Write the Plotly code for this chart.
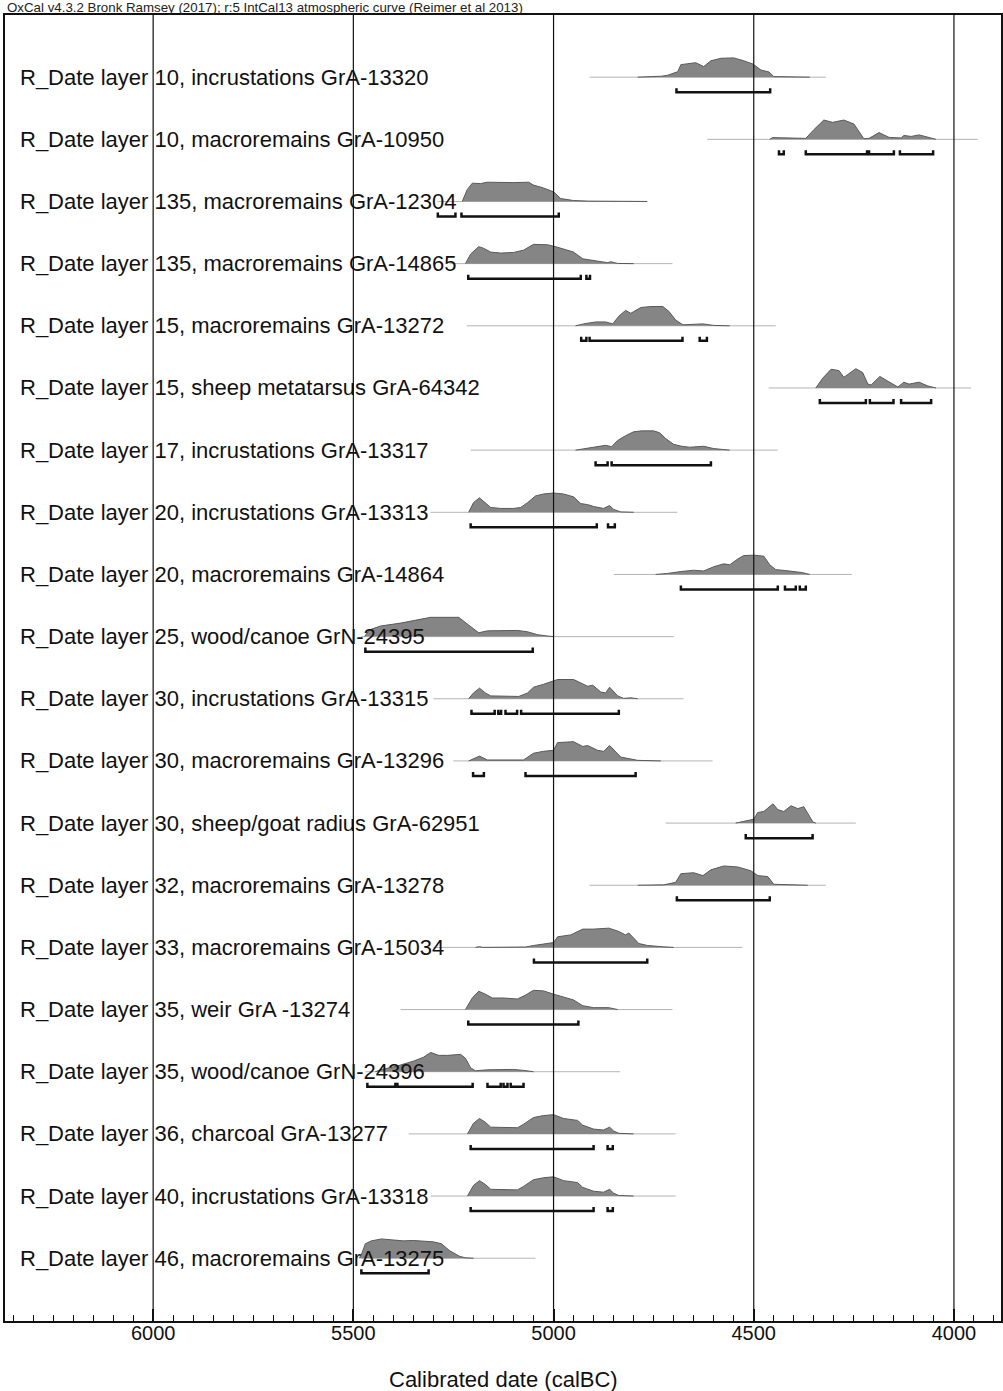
import plotly.graph_objects as go

labels = [
    "R_Date layer 10, incrustations GrA-13320",
    "R_Date layer 10, macroremains GrA-10950",
    "R_Date layer 135, macroremains GrA-12304",
    "R_Date layer 135, macroremains GrA-14865",
    "R_Date layer 15, macroremains GrA-13272",
    "R_Date layer 15, sheep metatarsus GrA-64342",
    "R_Date layer 17, incrustations GrA-13317",
    "R_Date layer 20, incrustations GrA-13313",
    "R_Date layer 20, macroremains GrA-14864",
    "R_Date layer 25, wood/canoe GrN-24395",
    "R_Date layer 30, incrustations GrA-13315",
    "R_Date layer 30, macroremains GrA-13296",
    "R_Date layer 30, sheep/goat radius GrA-62951",
    "R_Date layer 32, macroremains GrA-13278",
    "R_Date layer 33, macroremains GrA-15034",
    "R_Date layer 35, weir GrA -13274",
    "R_Date layer 35, wood/canoe GrN-24396",
    "R_Date layer 36, charcoal GrA-13277",
    "R_Date layer 40, incrustations GrA-13318",
    "R_Date layer 46, macroremains GrA-13275",
]

# extent of the thin baseline of each likelihood (calBC)
line_start = [4910, 4616, 5290, 5260, 5217, 4463, 5207, 5307, 4850, 5480,
              5300, 5250, 4720, 4910, 5300, 5382, 5470, 5362, 5307, 5482]
line_end = [4320, 3941, 4766, 4703, 4445, 3957, 4440, 4691, 4255, 4700,
            4675, 4603, 4245, 4320, 4528, 4703, 4834, 4695, 4695, 5045]

# probability distributions: years (calBC) and relative probability (max 1)
dist_years = [
    [4790, 4740, 4730, 4715, 4690, 4682, 4662, 4645, 4625, 4607, 4582, 4550, 4525, 4502, 4482, 4462, 4450, 4400, 4360],
    [4460, 4453, 4437, 4370, 4350, 4325, 4303, 4275, 4250, 4225, 4212, 4187, 4162, 4132, 4125, 4107, 4087, 4065, 4045],
    [5228, 5216, 5203, 5182, 5166, 5132, 5100, 5062, 5050, 5025, 5000, 4982, 4950, 4915, 4840, 4766],
    [5220, 5207, 5187, 5175, 5157, 5132, 5100, 5075, 5050, 5015, 4990, 4965, 4950, 4927, 4900, 4865, 4857, 4840, 4800],
    [4945, 4925, 4895, 4870, 4852, 4837, 4820, 4807, 4782, 4757, 4727, 4712, 4695, 4677, 4627, 4600, 4560],
    [4345, 4328, 4307, 4287, 4275, 4265, 4245, 4228, 4215, 4207, 4185, 4165, 4140, 4125, 4112, 4087, 4065, 4045],
    [4945, 4920, 4890, 4870, 4855, 4840, 4820, 4800, 4780, 4750, 4735, 4720, 4700, 4680, 4660, 4625, 4600, 4560],
    [5212, 5200, 5185, 5170, 5157, 5132, 5100, 5082, 5065, 5045, 5025, 5000, 4975, 4950, 4932, 4915, 4900, 4875, 4860, 4850, 4832, 4800],
    [4745, 4716, 4682, 4650, 4625, 4600, 4575, 4560, 4540, 4525, 4500, 4475, 4460, 4445, 4420, 4400, 4380, 4360],
    [5472, 5460, 5432, 5382, 5307, 5237, 5212, 5187, 5165, 5132, 5090, 5065, 5040, 5015, 5000],
    [5212, 5200, 5185, 5170, 5157, 5115, 5087, 5065, 5050, 5025, 5000, 4990, 4950, 4927, 4915, 4902, 4882, 4870, 4860, 4840, 4825, 4807, 4790],
    [5212, 5185, 5165, 5075, 5050, 5025, 5000, 4990, 4950, 4927, 4915, 4890, 4875, 4860, 4832, 4807, 4790, 4732],
    [4545, 4525, 4500, 4490, 4475, 4452, 4440, 4425, 4407, 4390, 4375, 4352, 4345],
    [4790, 4725, 4695, 4682, 4650, 4627, 4607, 4575, 4540, 4507, 4490, 4465, 4450, 4420, 4400, 4365],
    [5195, 5185, 5177, 5070, 5050, 5000, 4990, 4957, 4927, 4900, 4862, 4840, 4820, 4812, 4787, 4765, 4725, 4700],
    [5220, 5203, 5187, 5170, 5153, 5125, 5090, 5070, 5050, 5025, 5000, 4982, 4950, 4927, 4900, 4862, 4840],
    [5445, 5432, 5390, 5350, 5325, 5307, 5287, 5265, 5232, 5220, 5207, 5195, 5165, 5100, 5075, 5050],
    [5215, 5200, 5185, 5170, 5157, 5125, 5090, 5075, 5050, 5025, 5000, 4975, 4940, 4927, 4900, 4875, 4860, 4850, 4837, 4800],
    [5215, 5200, 5185, 5170, 5157, 5125, 5090, 5075, 5050, 5025, 5000, 4975, 4940, 4927, 4900, 4875, 4860, 4850, 4837, 4800],
    [5485, 5478, 5470, 5455, 5430, 5400, 5375, 5350, 5300, 5280, 5260, 5235, 5220, 5200],
]
dist_probs = [
    [0, 0.02, 0.05, 0.1, 0.28, 0.65, 0.7, 0.75, 0.55, 0.85, 0.98, 1.0, 0.85, 0.68, 0.37, 0.27, 0.03, 0.02, 0],
    [0, 0.09, 0.08, 0.05, 0.5, 1.0, 0.88, 1.0, 0.8, 0.03, 0.05, 0.35, 0.1, 0.07, 0.2, 0.15, 0.23, 0.1, 0],
    [0, 0.6, 0.95, 0.93, 1.0, 0.98, 0.98, 1.0, 0.85, 0.7, 0.5, 0.15, 0.05, 0.02, 0.01, 0],
    [0, 0.5, 0.88, 0.8, 0.6, 0.55, 0.58, 0.7, 1.0, 0.98, 0.85, 0.7, 0.6, 0.25, 0.15, 0.05, 0.1, 0.01, 0],
    [0, 0.1, 0.2, 0.2, 0.1, 0.5, 0.8, 0.65, 0.95, 1.0, 1.0, 0.75, 0.3, 0.05, 0.1, 0.02, 0],
    [0, 0.5, 0.97, 0.9, 0.55, 0.7, 1.0, 0.8, 0.2, 0.15, 0.6, 0.35, 0.05, 0.3, 0.2, 0.3, 0.1, 0],
    [0, 0.08, 0.2, 0.25, 0.18, 0.5, 0.75, 0.95, 1.0, 1.0, 0.9, 0.6, 0.3, 0.2, 0.15, 0.2, 0.08, 0],
    [0, 0.5, 0.75, 0.5, 0.25, 0.2, 0.2, 0.25, 0.5, 0.85, 0.95, 1.0, 0.95, 0.8, 0.45, 0.4, 0.3, 0.2, 0.35, 0.15, 0.02, 0],
    [0, 0.05, 0.15, 0.22, 0.18, 0.4, 0.55, 0.5, 0.8, 0.98, 1.0, 0.95, 0.5, 0.25, 0.2, 0.15, 0.1, 0],
    [0, 0.35, 0.55, 0.7, 1.0, 1.0, 0.6, 0.2, 0.3, 0.3, 0.32, 0.25, 0.1, 0.03, 0],
    [0, 0.3, 0.55, 0.3, 0.15, 0.15, 0.12, 0.3, 0.6, 0.75, 0.9, 1.0, 1.0, 0.75, 0.65, 0.7, 0.35, 0.3, 0.6, 0.15, 0.02, 0.05, 0],
    [0, 0.25, 0.05, 0.05, 0.4, 0.5, 0.55, 0.95, 1.0, 0.75, 0.8, 0.55, 0.5, 0.8, 0.2, 0.1, 0.03, 0],
    [0, 0.1, 0.2, 0.55, 0.6, 1.0, 0.7, 0.6, 0.9, 0.75, 0.85, 0.05, 0],
    [0, 0.02, 0.15, 0.6, 0.65, 0.5, 0.8, 1.0, 0.95, 0.75, 0.5, 0.45, 0.05, 0.03, 0.02, 0],
    [0, 0.04, 0, 0.02, 0.1, 0.25, 0.55, 0.65, 0.95, 0.95, 1.0, 0.85, 0.65, 0.75, 0.2, 0.1, 0.03, 0],
    [0, 0.6, 0.95, 0.8, 0.6, 0.6, 0.55, 0.75, 1.0, 0.97, 0.8, 0.7, 0.5, 0.2, 0.1, 0.1, 0],
    [0, 0.1, 0.3, 0.55, 0.75, 1.0, 0.85, 0.85, 0.9, 0.7, 0.2, 0.05, 0.1, 0.12, 0.07, 0],
    [0, 0.55, 0.8, 0.6, 0.35, 0.35, 0.32, 0.5, 0.85, 0.95, 1.0, 0.8, 0.7, 0.45, 0.25, 0.2, 0.35, 0.15, 0.03, 0],
    [0, 0.55, 0.8, 0.6, 0.35, 0.35, 0.32, 0.5, 0.85, 0.95, 1.0, 0.8, 0.7, 0.45, 0.25, 0.2, 0.35, 0.15, 0.03, 0],
    [0, 0.3, 0.75, 0.9, 1.0, 0.95, 0.9, 0.92, 0.85, 0.75, 0.4, 0.1, 0.02, 0],
]

# 95.4% highest posterior density ranges (from, to) calBC
hpd_ranges = [
    [(4693, 4459)],
    [(4437, 4425), (4370, 4217), (4212, 4150), (4135, 4052)],
    [(5289, 5245), (5230, 4987)],
    [(5213, 4932), (4918, 4909)],
    [(4931, 4918), (4910, 4678), (4635, 4617)],
    [(4335, 4220), (4210, 4151), (4132, 4057)],
    [(4895, 4865), (4855, 4607)],
    [(5207, 4892), (4864, 4847)],
    [(4682, 4440), (4422, 4395), (4385, 4370)],
    [(5470, 5052)],
    [(5205, 5147), (5138, 5131), (5120, 5091), (5081, 4837)],
    [(5201, 5174), (5070, 4795)],
    [(4520, 4353)],
    [(4692, 4460)],
    [(5049, 4766)],
    [(5213, 4938)],
    [(5465, 5395), (5390, 5202), (5165, 5132), (5125, 5115), (5107, 5075)],
    [(5207, 4900), (4865, 4852)],
    [(5207, 4900), (4865, 4852)],
    [(5480, 5312)],
]

major_ticks = [6000, 5500, 5000, 4500, 4000]
tick_text = ["6000", "5500", "5000", "4500", "4000"]

header = "OxCal v4.3.2 Bronk Ramsey (2017); r:5 IntCal13 atmospheric curve (Reimer et al 2013)"
x_title = "Calibrated date (calBC)"

HSCALE = 0.31     # height of a peak in row units
BAR_OFF = 0.242   # offset of range bars below baseline
BAR_TICK = 0.065  # height of bracket ends

FONT = "Liberation Sans, Arial, sans-serif"

fig = go.Figure()

# baselines
bx, by = [], []
for i in range(len(labels)):
    bx += [line_start[i], line_end[i], None]
    by += [i, i, None]
fig.add_trace(go.Scatter(x=bx, y=by, mode="lines",
                         line=dict(color="#b4b4b4", width=1),
                         hoverinfo="skip", showlegend=False))

# distributions
for i in range(len(labels)):
    xs = list(dist_years[i])
    ys = [i - p * HSCALE for p in dist_probs[i]]
    fig.add_trace(go.Scatter(x=xs, y=ys, mode="lines", fill="toself",
                             fillcolor="#858585",
                             line=dict(color="#5a5a5a", width=1),
                             hoverinfo="skip", showlegend=False))

# range brackets
rx, ry = [], []
for i, rngs in enumerate(hpd_ranges):
    yb = i + BAR_OFF
    for a, b in rngs:
        rx += [a, a, b, b, None]
        ry += [yb - BAR_TICK, yb, yb, yb - BAR_TICK, None]
fig.add_trace(go.Scatter(x=rx, y=ry, mode="lines",
                         line=dict(color="#111111", width=2.5),
                         hoverinfo="skip", showlegend=False))

# vertical grid lines on top of distributions
for v in major_ticks:
    fig.add_shape(type="line", x0=v, x1=v, y0=0, y1=1, xref="x", yref="paper",
                  line=dict(color="#111111", width=1.2), layer="above")

annotations = []
for i, lab in enumerate(labels):
    annotations.append(dict(x=0.013, xref="paper", y=i, yref="y", text=lab,
                            showarrow=False, xanchor="left", yanchor="middle",
                            font=dict(family=FONT, size=22, color="#111111")))
annotations.append(dict(x=0.0, xref="paper", y=1.0, yref="paper", text=header,
                        showarrow=False, xanchor="left", yanchor="bottom", yshift=-2,
                        font=dict(family=FONT, size=13.3, color="#222222")))
annotations.append(dict(x=0.5, xref="paper", y=-0.045, yref="paper", text=x_title,
                        showarrow=False, xanchor="center", yanchor="middle",
                        font=dict(family=FONT, size=22, color="#111111")))

fig.update_layout(
    width=1003, height=1391,
    margin=dict(l=5, r=0, t=15, b=70),
    paper_bgcolor="white", plot_bgcolor="white",
    annotations=annotations,
    xaxis=dict(range=[6370, 3882.5], showgrid=False, zeroline=False,
               tickmode="array", tickvals=major_ticks, ticktext=tick_text,
               ticks="inside", ticklen=12, tickwidth=2, tickcolor="#111111",
               ticklabelstandoff=-7,
               minor=dict(dtick=50, tick0=6000, ticks="inside", ticklen=6,
                          tickwidth=1, tickcolor="#111111", showgrid=False),
               showline=True, mirror=True, linecolor="#111111", linewidth=2,
               tickfont=dict(family=FONT, size=20, color="#111111")),
    yaxis=dict(range=[20.01, -1.0], showgrid=False, zeroline=False,
               showticklabels=False, ticks="",
               showline=True, mirror=True, linecolor="#111111", linewidth=2),
)

fig.write_html("out.html", config={"displayModeBar": False},
               post_script="document.body.style.margin='0px';document.body.style.overflow='hidden';")
